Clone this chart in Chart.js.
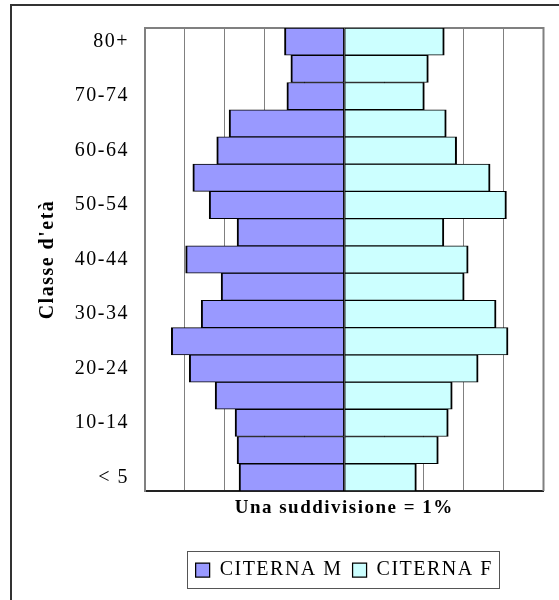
<!DOCTYPE html>
<html>
<head>
<meta charset="utf-8">
<script src="https://cdn.jsdelivr.net/npm/chart.js@4/dist/chart.umd.min.js"></script>
<style>
    html, body { margin: 0; padding: 0; background: #fff; overflow: hidden; }
    #wrap { position: relative; width: 559px; height: 600px; overflow: hidden; }
    #frame { position: absolute; left: 10px; top: 4px; width: 700px; height: 700px; border: 2px solid #333; }
    #pyramid { position: absolute; left: 0; top: 0; }
</style>
</head>
<body>
<div id="wrap">
    <div id="frame"></div>
    <canvas id="pyramid" width="559" height="600"></canvas>
</div>
<script>
// Age classes, youngest first (drawn bottom-up)
const ageGroups = ['< 5', '5-9', '10-14', '15-19', '20-24', '25-29', '30-34', '35-39',
    '40-44', '45-49', '50-54', '55-59', '60-64', '65-69', '70-74', '75-79', '80+'];

// Share of population (%), males on the left as negative values
const maleValues = [-2.64, -2.69, -2.74, -3.24, -3.89, -4.34, -3.59, -3.09,
    -3.98, -2.69, -3.39, -3.80, -3.20, -2.89, -1.44, -1.34, -1.50];
const femaleValues = [1.81, 2.36, 2.61, 2.71, 3.36, 4.11, 3.81, 3.01,
    3.11, 2.50, 4.07, 3.66, 2.82, 2.56, 2.01, 2.11, 2.51];

const seriesNames = ['CITERNA M', 'CITERNA F'];
const xMin = -5;
const xMax = 5;

const serif = "'Liberation Serif', 'Times New Roman', serif";

// canvas state gets reset on resize, so set the spacing each pass
const spacingPlugin = {
    id: 'spacing',
    beforeUpdate(chart) { chart.ctx.letterSpacing = '1.5px'; },
    beforeDraw(chart) { chart.ctx.letterSpacing = '1.5px'; }
};

// top and right edges of the plot area + box around the legend
const framePlugin = {
    id: 'frame',
    beforeDatasetsDraw(chart) {
        const { ctx, chartArea: a } = chart;
        ctx.save();
        ctx.strokeStyle = '#808080';
        ctx.lineWidth = 2;
        ctx.beginPath();
        ctx.moveTo(a.left, a.top);
        ctx.lineTo(a.right, a.top);
        ctx.lineTo(a.right, a.bottom);
        ctx.stroke();
        ctx.restore();
    },
    afterDraw(chart) {
        const lg = chart.legend;
        const hb = lg.legendHitBoxes;
        if (!hb || !hb.length) return;
        const last = hb[hb.length - 1];
        const ctx = chart.ctx;
        ctx.save();
        ctx.strokeStyle = '#555';
        ctx.lineWidth = 1;
        const left = Math.round(hb[0].left - 9) + 0.5;
        const right = Math.round(last.left + last.width + 6) + 0.5;
        ctx.strokeRect(left, lg.top + 1.5, right - left, lg.bottom - lg.top - 3);
        ctx.restore();
    }
};

const ctx = document.getElementById('pyramid').getContext('2d');

new Chart(ctx, {
    type: 'bar',
    data: {
        labels: ageGroups,
        datasets: [{
            label: seriesNames[0],
            data: maleValues,
            backgroundColor: '#9999FF',
            borderColor: '#000',
            borderWidth: { top: 1, bottom: 1, left: 2, right: 1 },
            borderSkipped: false,
            barPercentage: 1,
            categoryPercentage: 1
        }, {
            label: seriesNames[1],
            data: femaleValues,
            backgroundColor: '#CCFFFF',
            borderColor: '#000',
            borderWidth: { top: 1, bottom: 1, left: 1, right: 2 },
            borderSkipped: false,
            barPercentage: 1,
            categoryPercentage: 1
        }]
    },
    options: {
        indexAxis: 'y',
        responsive: false,
        animation: false,
        layout: {
            padding: { top: 25, right: 15.5, bottom: 10, left: 10 }
        },
        plugins: {
            legend: {
                position: 'bottom',
                fullSize: false,
                labels: {
                    color: '#000',
                    font: { family: serif, size: 20 },
                    boxWidth: 14,
                    boxHeight: 14,
                    padding: 10
                }
            },
            tooltip: { enabled: false }
        },
        scales: {
            x: {
                stacked: true,
                min: xMin,
                max: xMax,
                ticks: { display: false, stepSize: 1 },
                grid: { color: '#808080', lineWidth: 1, drawTicks: false },
                border: { display: true, color: '#222', width: 2 },
                title: {
                    display: true,
                    text: 'Una suddivisione = 1%',
                    color: '#000',
                    font: { family: serif, size: 19, weight: 'bold' },
                    padding: { top: 4, bottom: 31 }
                },
                afterFit(scale) { scale.height = 59; }
            },
            y: {
                stacked: true,
                reverse: true,
                ticks: {
                    autoSkip: false,
                    color: '#000',
                    font: { family: serif, size: 20 },
                    padding: 16,
                    callback: function (val, i) {
                        return i % 2 === 0 ? this.getLabelForValue(val) : '';
                    }
                },
                grid: { display: false, drawTicks: false },
                border: { display: true, color: '#808080', width: 2 },
                title: {
                    display: true,
                    text: "Classe d'età",
                    color: '#000',
                    font: { family: serif, size: 20, weight: 'bold' },
                    padding: { top: 26, bottom: 0 }
                },
                afterFit(scale) { scale.width = 135; }
            }
        }
    },
    plugins: [spacingPlugin, framePlugin]
});
</script>
</body>
</html>
